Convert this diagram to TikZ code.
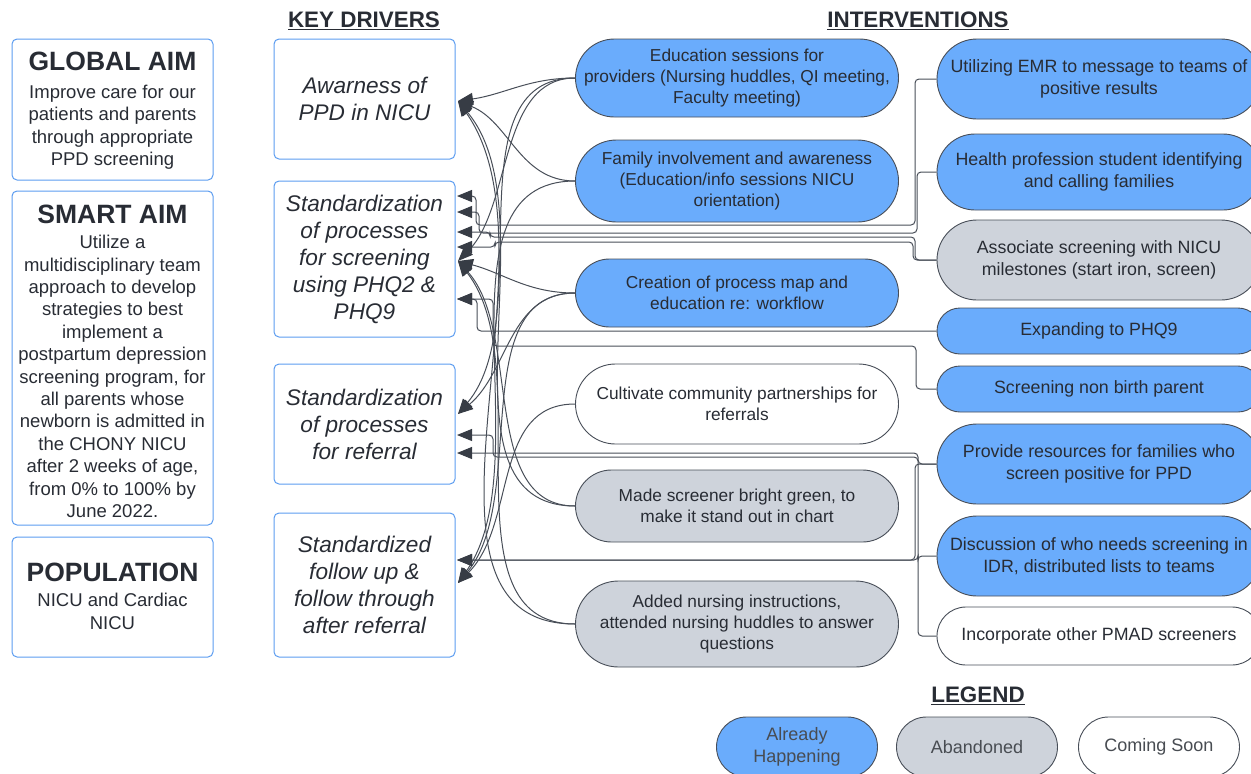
\documentclass[tikz,border=0pt]{standalone}
\usepackage{fontspec}
\setmainfont{Liberation Sans}
\usetikzlibrary{arrows.meta,backgrounds}
\definecolor{txt}{RGB}{40,44,52}
\definecolor{bluefill}{RGB}{106,172,252}
\definecolor{grayfill}{RGB}{206,211,219}
\definecolor{edge}{RGB}{72,78,88}
\definecolor{tipc}{RGB}{55,60,69}
\definecolor{boxblue}{RGB}{92,156,240}
\begin{document}
\begin{tikzpicture}[x=1pt,y=-1pt,
 aimbox/.style={draw=boxblue, line width=1pt, rounded corners=5pt, minimum width=201pt},
 aimhead/.style={text=txt, font=\fontsize{26.5}{28}\selectfont\bfseries, inner sep=0pt},
 aimbody/.style={text=txt, align=center, font=\fontsize{18.5}{22.4}\selectfont, inner sep=0pt},
 kdbox/.style={draw=boxblue, line width=1pt, rounded corners=5pt, minimum width=181pt, align=center, text=txt, font=\fontsize{22.6}{27}\selectfont\itshape},
 pill/.style={rectangle, draw=edge, line width=0.9pt, minimum width=323pt, align=center, text=txt, inner sep=0pt, font=\fontsize{17.3}{20.8}\selectfont},
 ph/.style={minimum height=#1, rounded corners=#1/2},
 rpill/.style={font=\fontsize{17.8}{21.5}\selectfont, minimum width=324pt},
 blue/.style={pill, fill=bluefill},
 grey/.style={pill, fill=grayfill},
 white/.style={pill, fill=white},
 heading/.style={text=txt, font=\fontsize{22.4}{24}\selectfont\bfseries},
 conn/.style={draw=edge, line width=1pt, -{Triangle[length=15pt,width=12pt,color=tipc]}},
 elbow/.style={conn, rounded corners=4pt},
 legendpill/.style={pill, minimum width=161pt, ph=60pt, text=txt!85, font=\fontsize{18}{22}\selectfont}
]
\useasboundingbox (0,0) rectangle (1251,774);
\clip (0,0) rectangle (1251,774);

% headings
\node[heading] (hkd) at (364,21) {\underline{KEY DRIVERS}};
\node[heading] (hint) at (918,21) {\underline{INTERVENTIONS}};
\node[heading] (hleg) at (978,696) {\underline{LEGEND}};

% left aim boxes
\node[aimbox, minimum height=141pt] (global) at (112.5,109.5) {};
\node[aimhead] (globalh) at (112.5,61) {GLOBAL AIM};
\node[aimbody, anchor=north] (globalb) at (112.5,85) {Improve care for our\\patients and parents\\through appropriate\\PPD screening};

\node[aimbox, minimum height=334pt] (smart) at (112.5,358) {};
\node[aimhead] (smarth) at (112.5,214) {SMART AIM};
\node[aimbody, anchor=north] (smartb) at (112.5,235) {Utilize a\\multidisciplinary team\\approach to develop\\strategies to best\\implement a\\postpartum depression\\screening program, for\\all parents whose\\newborn is admitted in\\the CHONY NICU\\after 2 weeks of age,\\from 0\% to 100\% by\\June 2022.};

\node[aimbox, minimum height=120pt] (pop) at (112.5,597) {};
\node[aimhead] (poph) at (112.5,572) {POPULATION};
\node[aimbody, anchor=north] (popb) at (112.5,593) {NICU and Cardiac\\NICU};

% key drivers
\node[kdbox, minimum height=120pt] (kd1) at (364.5,99) {Awarness of\\PPD in NICU};
\node[kdbox, minimum height=156pt] (kd2) at (364.5,259) {Standardization\\of processes\\for screening\\using PHQ2 \&\\PHQ9};
\node[kdbox, minimum height=120pt] (kd3) at (364.5,424) {Standardization\\of processes\\for referral};
\node[kdbox, minimum height=144pt] (kd4) at (364.5,585) {Standardized\\follow up \&\\follow through\\after referral};

% middle interventions
\node[blue, ph=78pt] (i1) at (737,78) {Education sessions for\\providers (Nursing huddles, QI meeting,\\Faculty meeting)};
\node[blue, ph=82pt] (i2) at (737,181) {Family involvement and awareness\\(Education/info sessions NICU\\orientation)};
\node[blue, ph=68pt] (i3) at (737,293) {Creation of process map and\\education re: workflow};
\node[white, ph=80pt] (i4) at (737,404) {Cultivate community partnerships for\\referrals};
\node[grey, ph=72pt] (i5) at (737,506) {Made screener bright green, to\\make it stand out in chart};
\node[grey, ph=86pt] (i6) at (737,624) {Added nursing instructions,\\attended nursing huddles to answer\\questions};

% right interventions
\node[blue, rpill, ph=80pt] (r1) at (1099,79) {Utilizing EMR to message to teams of\\positive results};
\node[blue, rpill, ph=76pt] (r2) at (1099,172) {Health profession student identifying\\and calling families};
\node[grey, rpill, ph=80pt] (r3) at (1099,260) {Associate screening with NICU\\milestones (start iron, screen)};
\node[blue, rpill, ph=46pt] (r4) at (1099,331) {Expanding to PHQ9};
\node[blue, rpill, ph=46pt] (r5) at (1099,389) {Screening non birth parent};
\node[blue, rpill, ph=80pt] (r6) at (1099,464) {Provide resources for families who\\screen positive for PPD};
\node[blue, rpill, ph=80pt] (r7) at (1099,556) {Discussion of who needs screening in\\IDR, distributed lists to teams};
\node[white, rpill, ph=58pt] (r8) at (1099,636) {Incorporate other PMAD screeners};

% legend
\node[legendpill, fill=bluefill] (lg1) at (797,747) {Already\\Happening};
\node[legendpill, fill=grayfill] (lg2) at (977,747) {Abandoned};
\node[legendpill, fill=white] (lg3) at (1159,747) {Coming Soon};

% arrow tip coordinates
\coordinate (k1) at (458,101);
\coordinate (k2a) at (457,196);
\coordinate (k2b) at (457,212);
\coordinate (k2c) at (457,232);
\coordinate (k2d) at (457,247);
\coordinate (k2e) at (458,261);
\coordinate (k2f) at (457,299);
\coordinate (k3a) at (458,414);
\coordinate (k3b) at (457,435);
\coordinate (k3c) at (457,453);
\coordinate (k4a) at (457,560);
\coordinate (k4b) at (458,583);

\begin{scope}[on background layer]
% curved connectors (angles are screen angles)
\draw[conn] (i1.west) to[out=180,in=8] (k1);
\draw[conn] (i2.west) to[out=180,in=-22] (k1);
\draw[conn] (i5.west) to[out=180,in=-50,looseness=0.9] (k1);
\draw[conn] (i6.west) to[out=180,in=-55,looseness=0.9] (k1);
\draw[conn] (i1.west) to[out=180,in=45,looseness=0.9] (k2e);
\draw[conn] (i3.west) to[out=180,in=-15] (k2e);
\draw[conn] (i5.west) to[out=180,in=-48,looseness=0.9] (k2e);
\draw[conn] (i6.west) to[out=180,in=-52,looseness=0.9] (k2e);
\draw[conn] (i1.west) to[out=180,in=50,looseness=0.9] (k3a);
\draw[conn] (i3.west) to[out=180,in=40] (k3a);
\draw[conn] (i2.west) to[out=180,in=55,looseness=0.9] (k4b);
\draw[conn] (i3.west) to[out=180,in=50,looseness=0.9] (k4b);
\draw[conn] (i4.west) to[out=180,in=45] (k4b);

% elbow connectors from right column
\draw[elbow] (r1.west) -- (915,79) -- (915,225) -- (476,225) -- (476,196) -- (k2a);
\draw[elbow] (r2.west) -- (917,172) -- (917,233) -- (479,233) -- (479,212) -- (k2b);
\draw[elbow] (r3.west) -- (915,260) -- (915,237) -- (490,237) -- (490,232) -- (k2c);
\draw[elbow] (r3.west) -- (913,260) -- (913,242) -- (495,242) -- (495,247) -- (k2d);
\draw[elbow] (r4.west) -- (477,331) -- (477,299) -- (k2f);
\draw[elbow] (r5.west) -- (916,389) -- (916,346) -- (493,346) -- (493,299) -- (k2f);
\draw[elbow] (r6.west) -- (918,464) -- (918,453) -- (k3c);
\draw[elbow] (r8.west) -- (918,636) -- (918,457) -- (493,457) -- (493,435) -- (k3b);
\draw[elbow] (r7.west) -- (918,556) -- (918,560) -- (k4a);
\draw[elbow] (r6.west) -- (915,464) -- (915,560) -- (k4a);
\end{scope}
\end{tikzpicture}
\end{document}
